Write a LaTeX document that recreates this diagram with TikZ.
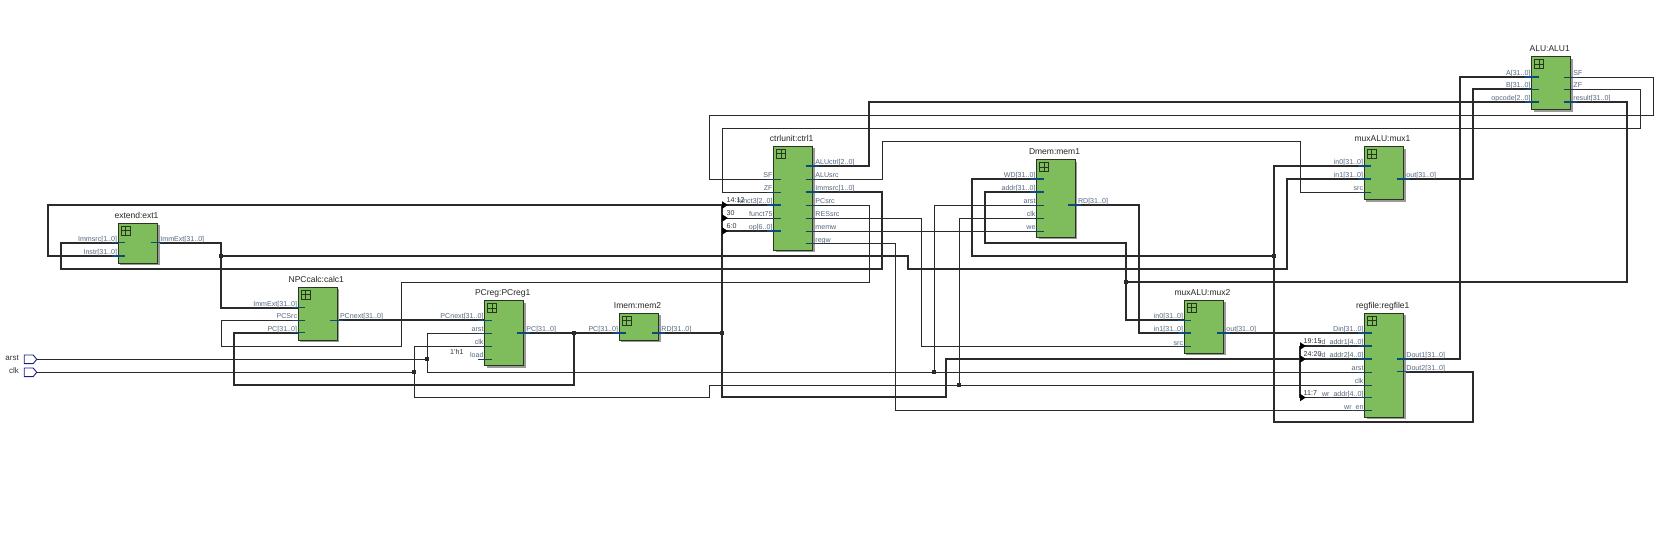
\documentclass[tikz,border=0pt]{standalone}
\usepackage{fontspec}
\setmainfont{Liberation Sans}
\usetikzlibrary{shapes.symbols}
\pgfdeclarelayer{wires}
\pgfsetlayers{wires,main}
\definecolor{boxgreen}{HTML}{7FBC5C}
\definecolor{boxedge}{HTML}{26361F}
\definecolor{boxshadow}{HTML}{9A9A9A}
\definecolor{wirecol}{HTML}{2B2B2B}
\definecolor{buspin}{HTML}{0C4A7C}
\definecolor{thinpin}{HTML}{1F3F5F}
\definecolor{pinlabc}{HTML}{55677F}
\definecolor{inpinc}{HTML}{1A1A90}
\tikzset{
  x=1pt,y=-1pt,
  blockbox/.style={draw=boxedge,fill=boxgreen,line width=1pt,inner sep=0pt,outer sep=0pt,anchor=north west},
  blocktitle/.style={font=\fontsize{8.5}{10}\selectfont,text=black!85,inner sep=0pt,text height=5.6pt,text depth=1.6pt},
  pinlab/.style={font=\fontsize{7.1}{8}\selectfont,text=pinlabc,inner sep=0pt,text height=5pt,text depth=1.4pt},
  riplab/.style={font=\fontsize{7.1}{8}\selectfont,text=black!80,inner sep=0pt,anchor=west,text height=5pt,text depth=1.4pt},
  toplab/.style={font=\fontsize{8}{9}\selectfont,text=black!80,inner sep=0pt,anchor=east,text height=5.6pt,text depth=1.6pt},
  pinbus/.style={draw=buspin,line width=1.5pt},
  pinthin/.style={draw=thinpin,line width=0.9pt},
  thick wire/.style={draw=wirecol,line width=1.7pt,line join=miter},
  thin wire/.style={draw=wirecol,line width=0.9pt,line join=miter},
  junc/.style={fill=wirecol,inner sep=0pt,minimum size=3.8pt,draw=none,shape=rectangle},
  inpin/.style={shape=signal,signal to=east,signal pointer angle=100,draw=inpinc,line width=0.9pt,fill=white,minimum width=12.5pt,minimum height=8.7pt,inner sep=0pt,outer sep=0pt},
  riptip/.style={fill=black,draw=none}
}
\newcommand\blk[6]{%
  \fill[boxshadow] ({#2+2},{#3+2}) rectangle ({#4+2},{#5+2});
  \node[blockbox,minimum width={(#4-#2)*1pt},minimum height={(#5-#3)*1pt}] (#1) at (#2,#3) {};
  \draw[draw=boxedge,line width=1.3pt] ({#2+3},{#3+3}) rectangle ({#2+12},{#3+12});
  \draw[draw=boxedge,line width=1.3pt] ({#2+7.5},{#3+3}) -- ({#2+7.5},{#3+12}) ({#2+3},{#3+7.5}) -- ({#2+12},{#3+7.5});
  \node[blocktitle] (#1-t) at ({(#2+#4)/2-1.5},{#3-7}) {#6};
}
\newcommand\pinI[5]{%
  \coordinate (#2) at ({#3+7},#4);
  \draw[#1] ({#3-6.5},#4) -- (#2);
  \node[pinlab,anchor=east] (#2-l) at ({#3-1},{#4-3.2}) {#5};
}
\newcommand\pinO[5]{%
  \coordinate (#2) at ({#3-7},#4);
  \draw[#1] (#2) -- ({#3+6},#4);
  \node[pinlab,anchor=west] (#2-l) at ({#3+2.5},{#4-3.2}) {#5};
}
\newcommand\rip[2]{\fill[riptip] (#1,{#2-3.8}) -- ({#1+5.8},#2) -- (#1,{#2+3.8}) -- cycle;}
\begin{document}
\begin{tikzpicture}
\useasboundingbox (0,0) rectangle (1663,539);
\begin{pgfonlayer}{wires}
\fill[white] (0,0) rectangle (1663,539);
\end{pgfonlayer}

% inputs
\node[inpin] (arstpin) at (28.7,359.3) {};
\node[inpin] (clkpin) at (28.7,372.3) {};
\node[toplab] (arstlab) at (19,358) {arst};
\node[toplab] (clklab) at (19,371.5) {clk};

% extend
\blk{ext}{118.3}{223.3}{157.7}{263}{extend:ext1}
\pinI{pinbus}{ext-immsrc}{118.3}{242.7}{Immsrc[1..0]}
\pinI{pinbus}{ext-instr}{118.3}{256}{Instr[31..0]}
\pinO{pinbus}{ext-immext}{157.7}{242.7}{ImmExt[31..0]}

% NPC
\blk{npc}{298.3}{287.3}{337.3}{340.3}{NPCcalc:calc1}
\pinI{pinbus}{npc-immext}{298.3}{307.7}{ImmExt[31..0]}
\pinI{pinthin}{npc-pcsrc}{298.3}{320.3}{PCSrc}
\pinI{pinbus}{npc-pc}{298.3}{332.7}{PC[31..0]}
\pinO{pinbus}{npc-pcnext}{337.3}{320.3}{PCnext[31..0]}

% PCreg
\blk{pcreg}{484.7}{300.7}{523.7}{365.7}{PCreg:PCreg1}
\pinI{pinbus}{pcreg-pcnext}{484.7}{320.3}{PCnext[31..0]}
\pinI{pinthin}{pcreg-arst}{484.7}{333}{arst}
\pinI{pinthin}{pcreg-clk}{484.7}{346}{clk}
\pinI{pinthin}{pcreg-load}{484.7}{359}{load}
\pinO{pinbus}{pcreg-pc}{523.7}{333}{PC[31..0]}
\node[riplab] (oneh) at (450,352.7) {1'h1};

% Imem
\blk{imem}{619.3}{313.3}{658.7}{340.3}{Imem:mem2}
\pinI{pinbus}{imem-pc}{619.3}{333}{PC[31..0]}
\pinO{pinbus}{imem-rd}{658.7}{333}{RD[31..0]}

% ctrl
\blk{ctrl}{773.7}{146.3}{812.7}{250.3}{ctrlunit:ctrl1}
\pinI{pinthin}{ctrl-sf}{773.7}{179}{SF}
\pinI{pinthin}{ctrl-zf}{773.7}{192}{ZF}
\pinI{pinbus}{ctrl-funct3}{773.7}{205}{funct3[2..0]}
\pinI{pinthin}{ctrl-funct75}{773.7}{218}{funct75}
\pinI{pinbus}{ctrl-op}{773.7}{231}{op[6..0]}
\pinO{pinbus}{ctrl-aluctrl}{812.7}{166}{ALUctrl[2..0]}
\pinO{pinthin}{ctrl-alusrc}{812.7}{179}{ALUsrc}
\pinO{pinbus}{ctrl-immsrc}{812.7}{192}{Immsrc[1..0]}
\pinO{pinthin}{ctrl-pcsrc}{812.7}{205}{PCsrc}
\pinO{pinthin}{ctrl-ressrc}{812.7}{218}{RESsrc}
\pinO{pinthin}{ctrl-memw}{812.7}{231}{memw}
\pinO{pinthin}{ctrl-regw}{812.7}{243.7}{regw}

% Dmem
\blk{dmem}{1036.7}{159.7}{1075.3}{237.3}{Dmem:mem1}
\pinI{pinbus}{dmem-wd}{1036.7}{179}{WD[31..0]}
\pinI{pinbus}{dmem-addr}{1036.7}{192}{addr[31..0]}
\pinI{pinthin}{dmem-arst}{1036.7}{205}{arst}
\pinI{pinthin}{dmem-clk}{1036.7}{218}{clk}
\pinI{pinthin}{dmem-we}{1036.7}{231}{we}
\pinO{pinbus}{dmem-rd}{1075.3}{205}{RD[31..0]}

% mux2
\blk{mux2}{1184.3}{300.3}{1223.7}{353.3}{muxALU:mux2}
\pinI{pinbus}{mux2-in0}{1184.3}{320.3}{in0[31..0]}
\pinI{pinbus}{mux2-in1}{1184.3}{333}{in1[31..0]}
\pinI{pinthin}{mux2-src}{1184.3}{346.5}{src}
\pinO{pinbus}{mux2-out}{1223.7}{333}{out[31..0]}

% mux1
\blk{mux1}{1364.3}{146.7}{1403.7}{199.7}{muxALU:mux1}
\pinI{pinbus}{mux1-in0}{1364.3}{166}{in0[31..0]}
\pinI{pinbus}{mux1-in1}{1364.3}{179}{in1[31..0]}
\pinI{pinthin}{mux1-src}{1364.3}{192}{src}
\pinO{pinbus}{mux1-out}{1403.7}{179}{out[31..0]}

% regfile
\blk{reg}{1364.7}{313.3}{1403.7}{417.3}{regfile:regfile1}
\pinI{pinbus}{reg-din}{1364.7}{333}{Din[31..0]}
\pinI{pinbus}{reg-addr1}{1364.7}{346}{rd\_addr1[4..0]}
\pinI{pinbus}{reg-addr2}{1364.7}{359}{rd\_addr2[4..0]}
\pinI{pinthin}{reg-arst}{1364.7}{372}{arst}
\pinI{pinthin}{reg-clk}{1364.7}{385}{clk}
\pinI{pinbus}{reg-wraddr}{1364.7}{397.5}{wr\_addr[4..0]}
\pinI{pinthin}{reg-wren}{1364.7}{410.5}{wr\_en}
\pinO{pinbus}{reg-dout1}{1403.7}{359}{Dout1[31..0]}
\pinO{pinbus}{reg-dout2}{1403.7}{371.7}{Dout2[31..0]}

% ALU
\blk{alu}{1531.7}{56.7}{1570.7}{109.7}{ALU:ALU1}
\pinI{pinbus}{alu-a}{1531.7}{77}{A[31..0]}
\pinI{pinbus}{alu-b}{1531.7}{89.3}{B[31..0]}
\pinI{pinbus}{alu-opcode}{1531.7}{102}{opcode[2..0]}
\pinO{pinthin}{alu-sf}{1570.7}{77}{SF}
\pinO{pinthin}{alu-zf}{1570.7}{89.3}{ZF}
\pinO{pinbus}{alu-result}{1570.7}{102}{result[31..0]}

% junctions
\node[junc] (j1) at (221,256) {};
\node[junc] (j2) at (574,333) {};
\node[junc] (j3) at (722,333) {};
\node[junc] (j4) at (1126,282) {};
\node[junc] (j5) at (1274,256) {};
\node[junc] (j6) at (427.3,359.3) {};
\node[junc] (j7) at (414.3,372.3) {};
\node[junc] (j8) at (934.3,372.3) {};
\node[junc] (j9) at (959.3,385) {};

% rip points
\coordinate (busAtop) at (722,205);
\coordinate (busA218) at (722,218);
\coordinate (busA231) at (722,231);
\coordinate (busAbot) at (722,397);
\coordinate (busB346) at (1300,346);
\coordinate (busB359) at (1300,359);
\coordinate (busB397) at (1300,397.5);

\begin{pgfonlayer}{wires}
% thick wires
\draw[thick wire] (ext-instr) -- (48,256) -- (48,205) -- (busAtop);
\draw[thick wire] (busAtop) -- (busAbot) -- (946,397) -- (946,359) -- (busB359);
\draw[thick wire] (busB346) -- (busB397);
\draw[thick wire] (busAtop) -- (ctrl-funct3);
\draw[thick wire] (busA231) -- (ctrl-op);
\draw[thick wire] (busB346) -- (reg-addr1);
\draw[thick wire] (busB359) -- (reg-addr2);
\draw[thick wire] (busB397) -- (reg-wraddr);
\draw[thick wire] (ext-immsrc) -- (61,242.7) -- (61,269) -- (882,269) -- (882,192) -- (ctrl-immsrc);
\draw[thick wire] (ext-immext) -- (221,242.7) -- (221,307.7) -- (npc-immext);
\draw[thick wire] (j1) -- (908,256) -- (908,269) -- (1287,269) -- (1287,179) -- (mux1-in1);
\draw[thick wire] (npc-pcnext) -- (pcreg-pcnext);
\draw[thick wire] (pcreg-pc) -- (imem-pc);
\draw[thick wire] (j2) -- (574,384.7) -- (234,384.7) -- (234,332.7) -- (npc-pc);
\draw[thick wire] (imem-rd) -- (j3);
\draw[thick wire] (ctrl-aluctrl) -- (869,166) -- (869,102) -- (alu-opcode);
\draw[thick wire] (alu-result) -- (1626.7,102) -- (1626.7,282) -- (j4);
\draw[thick wire] (dmem-addr) -- (985,192) -- (985,243) -- (1126,243) -- (1126,320.3) -- (mux2-in0);
\draw[thick wire] (dmem-rd) -- (1139,205) -- (1139,333) -- (mux2-in1);
\draw[thick wire] (mux2-out) -- (reg-din);
\draw[thick wire] (reg-dout2) -- (1473,371.7) -- (1473,422) -- (1274,422) -- (1274,166) -- (mux1-in0);
\draw[thick wire] (j5) -- (972,256) -- (972,179) -- (dmem-wd);
\draw[thick wire] (mux1-out) -- (1473,179) -- (1473,89.3) -- (alu-b);
\draw[thick wire] (reg-dout1) -- (1460,359) -- (1460,77) -- (alu-a);
% thin wires
\draw[thin wire] (busA218) -- (ctrl-funct75);
\draw[thin wire] (ctrl-pcsrc) -- (869.7,205) -- (869.7,282) -- (401,282) -- (401,346.3) -- (221.7,346.3) -- (221.7,320.3) -- (npc-pcsrc);
\draw[thin wire] (ctrl-alusrc) -- (882,179) -- (882,141.5) -- (1300,141.5) -- (1300,192) -- (mux1-src);
\draw[thin wire] (alu-sf) -- (1653,77) -- (1653,115.3) -- (709.3,115.3) -- (709.3,179) -- (ctrl-sf);
\draw[thin wire] (alu-zf) -- (1640,89.3) -- (1640,128.3) -- (722,128.3) -- (722,192) -- (ctrl-zf);
\draw[thin wire] (ctrl-ressrc) -- (921.3,218) -- (921.3,346.5) -- (mux2-src);
\draw[thin wire] (ctrl-memw) -- (dmem-we);
\draw[thin wire] (ctrl-regw) -- (895.5,243.7) -- (895.5,410.5) -- (reg-wren);
\draw[thin wire] (arstpin.east) -- (j6);
\draw[thin wire] (j6) -- (427.3,333) -- (pcreg-arst);
\draw[thin wire] (j6) -- (427.3,372) -- (reg-arst);
\draw[thin wire] (j8) -- (934.3,205) -- (dmem-arst);
\draw[thin wire] (clkpin.east) -- (j7);
\draw[thin wire] (j7) -- (414.3,346) -- (pcreg-clk);
\draw[thin wire] (j7) -- (414.3,397.3) -- (709.7,397.3) -- (709.7,385) -- (reg-clk);
\draw[thin wire] (j9) -- (959.3,218) -- (dmem-clk);
\end{pgfonlayer}

% rip arrows and labels
\rip{722}{205}\rip{722}{218}\rip{722}{231}
\rip{1300}{346}\rip{1300}{359}\rip{1300}{397.5}
\node[riplab] (r1) at (726.5,200.5) {14:12};
\node[riplab] (r2) at (726.5,213.7) {30};
\node[riplab] (r3) at (726.5,226.7) {6:0};
\node[riplab] (r4) at (1303.5,342) {19:15};
\node[riplab] (r5) at (1303.5,355) {24:20};
\node[riplab] (r6) at (1303.5,393.5) {11:7};
\end{tikzpicture}
\end{document}
